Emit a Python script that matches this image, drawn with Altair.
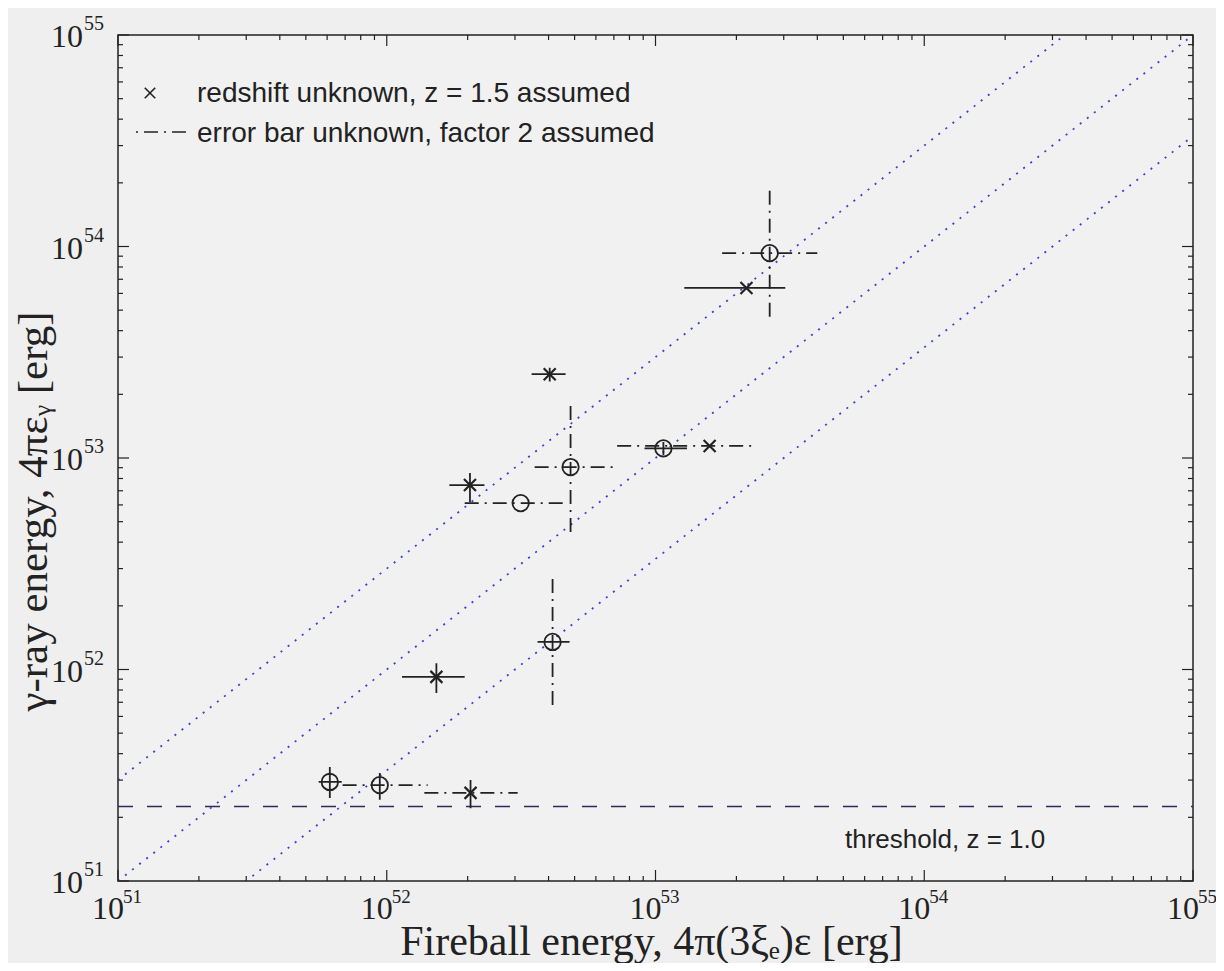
import altair as alt
import pandas as pd

# ---------------- data ----------------
X_DOMAIN = [1e51, 1e55]
Y_DOMAIN = [1e51, 1e55]
MAJOR_EXP = [51, 52, 53, 54, 55]
MINOR_MULT = [2, 3, 4, 5, 6, 7, 8, 9]
TICK_BASE = ["10", "10", "10", "10", "10"]
TICK_EXP = ["51", "52", "53", "54", "55"]

# GRB points: fireball energy (x) vs gamma-ray energy (y)
PT_X = [2.66e53, 2.18e53, 4.04e52, 4.83e52, 1.07e53, 1.59e53, 2.04e52,
        3.15e52, 4.14e52, 1.53e52, 6.14e51, 9.42e51, 2.05e52]
PT_Y = [9.3e53, 6.37e53, 2.49e53, 9.06e52, 1.11e53, 1.14e53, 7.45e52,
        6.12e52, 1.35e52, 9.23e51, 2.94e51, 2.84e51, 2.61e51]
PT_KIND = ["known", "unknown", "unknown", "known", "known", "unknown", "unknown",
           "known", "known", "unknown", "known", "known", "unknown"]
XLO = [1.77e53, 1.28e53, 3.46e52, 3.55e52, 9.1e52, 7.2e52, 1.71e52,
       1.95e52, 3.64e52, 1.14e52, 5.58e51, 6.85e51, 1.38e52]
XHI = [4.0e53, 3.04e53, 4.63e52, 7.23e52, 1.31e53, 2.39e53, 2.31e52,
       4.71e52, 4.79e52, 1.95e52, 6.8e51, 1.42e52, 3.07e52]
XSTYLE = ["dashdot", "solid", "solid", "dashdot", "solid", "dashdot", "solid",
          "dashdot", "solid", "solid", "solid", "dashdot", "dashdot"]
YLO = [4.65e53, None, 2.3e53, 4.47e52, 1.03e53, None, 6.2e52,
       None, 6.8e51, 7.75e51, 2.47e51, 2.42e51, 2.21e51]
YHI = [1.85e54, None, 2.67e53, 1.84e53, 1.19e53, None, 8.5e52,
       None, 2.71e52, 1.07e52, 3.46e51, 3.24e51, 3.0e51]
YSTYLE = ["dashdot", None, "solid", "dashdot", "solid", None, "solid",
          None, "dashdot", "solid", "solid", "solid", "solid"]

RATIOS = [3.0, 1.0, 1.0 / 3.0]
THRESHOLD = 2.25e51

X_TITLE = "Fireball energy, 4π(3ξₑ)ε [erg]"
Y_TITLE = "γ-ray energy, 4πεᵧ [erg]"
LEGEND_TEXT = ["redshift unknown, z = 1.5 assumed", "error bar unknown, factor 2 assumed"]
THRESH_TEXT = "threshold, z = 1.0"

# ---------------- styling ----------------
W, H = 1075, 846
INK = "#222222"
SERIF = "Liberation Serif, DejaVu Serif, serif"
SANS = "Liberation Sans, Arial, sans-serif"
BLUE = "#3c3ce6"
XPATH = "M-1,-1L1,1M-1,1L1,-1"

major_vals = [10.0 ** e for e in MAJOR_EXP]
minor_vals = [m * 10.0 ** e for e in MAJOR_EXP[:-1] for m in MINOR_MULT]

XS = alt.Scale(type="log", domain=X_DOMAIN)
YS = alt.Scale(type="log", domain=Y_DOMAIN)

XAX = alt.Axis(values=major_vals, labels=False, ticks=False, tickSize=0,
               domain=False, grid=False,
               title=X_TITLE, titleFont=SERIF, titleFontSize=42,
               titleFontWeight="normal", titleColor=INK,
               titleX=533, titleY=73, titleBaseline="alphabetic")
YAX = alt.Axis(values=major_vals, labels=False, ticks=False, tickSize=0,
               domain=False, grid=False,
               title=Y_TITLE, titleFont=SERIF, titleFontSize=43,
               titleFontWeight="normal", titleColor=INK,
               titleX=-72, titleY=476, titleAngle=270,
               titleBaseline="alphabetic", titleAlign="center")


def xq(f):
    return alt.X(f, type="quantitative", scale=XS, axis=XAX)


def yq(f):
    return alt.Y(f, type="quantitative", scale=YS, axis=YAX)


DASH = alt.StrokeDash("style:N",
                      scale=alt.Scale(domain=["solid", "dashdot"],
                                      range=[[1, 0], [14, 6, 2, 6]]),
                      legend=None)

# ---------------- tables ----------------
pts = pd.DataFrame({"x": PT_X, "y": PT_Y, "kind": PT_KIND})
hbars = pd.DataFrame({"lo": XLO, "hi": XHI, "y": PT_Y, "style": XSTYLE})
vrows = [dict(x=x, lo=lo, hi=hi, style=s)
         for x, lo, hi, s in zip(PT_X, YLO, YHI, YSTYLE) if s is not None]
vbars = pd.DataFrame(vrows)
lines = pd.DataFrame([dict(r=str(i), x=x, y=r * x)
                      for i, r in enumerate(RATIOS) for x in X_DOMAIN])
thr = pd.DataFrame({"y": [THRESHOLD]})
one = pd.DataFrame({"a": [0]})
tick_lab = pd.DataFrame({"v": major_vals, "base": TICK_BASE, "exp": TICK_EXP})

layers = []

layers.append(alt.Chart(lines).mark_line(clip=True, color=BLUE, strokeWidth=1.8,
                                         strokeDash=[2, 7]).encode(
    x=xq("x"), y=yq("y"), detail="r:N"))

layers.append(alt.Chart(thr).mark_rule(color="#2c2c5c", strokeWidth=1.6,
                                       strokeDash=[15, 14]).encode(
    y=yq("y"), x=alt.value(0), x2=alt.value(W)))

layers.append(alt.Chart(hbars).mark_rule(color=INK, strokeWidth=1.8).encode(
    x=xq("lo"), x2="hi", y=yq("y"), strokeDash=DASH))
layers.append(alt.Chart(vbars).mark_rule(color=INK, strokeWidth=1.8).encode(
    y=yq("lo"), y2="hi", x=xq("x"), strokeDash=DASH))

layers.append(alt.Chart(pts).transform_filter("datum.kind == 'known'").mark_point(
    shape="circle", size=270, filled=False, color=INK, strokeWidth=1.8, opacity=1).encode(
    x=xq("x"), y=yq("y")))
layers.append(alt.Chart(pts).transform_filter("datum.kind == 'unknown'").mark_point(
    shape=XPATH, size=144, filled=False, color=INK, strokeWidth=2.2, opacity=1).encode(
    x=xq("x"), y=yq("y")))


def ticks(values, length, side):
    base = alt.Chart(pd.DataFrame({"v": values})).mark_rule(color=INK, strokeWidth=1.2)
    if side == "bottom":
        return base.encode(x=xq("v"), y=alt.value(H), y2=alt.value(H - length))
    if side == "top":
        return base.encode(x=xq("v"), y=alt.value(0), y2=alt.value(length))
    if side == "left":
        return base.encode(y=yq("v"), x=alt.value(0), x2=alt.value(length))
    return base.encode(y=yq("v"), x=alt.value(W), x2=alt.value(W - length))


for side in ["bottom", "top", "left", "right"]:
    layers.append(ticks(major_vals, 11, side))
    layers.append(ticks(minor_vals, 5, side))

# tick labels: "10" with a raised exponent
lab = alt.Chart(tick_lab)
layers.append(lab.mark_text(align="right", baseline="alphabetic", font=SERIF,
                            fontSize=32, color=INK, dx=6).encode(
    x=xq("v"), y=alt.value(H + 38), text="base:N"))
layers.append(lab.mark_text(align="left", baseline="alphabetic", font=SERIF,
                            fontSize=19, color=INK, dx=5).encode(
    x=xq("v"), y=alt.value(H + 22), text="exp:N"))
layers.append(lab.mark_text(align="right", baseline="alphabetic", font=SERIF,
                            fontSize=32, color=INK, dy=12).encode(
    y=yq("v"), x=alt.value(-35), text="base:N"))
layers.append(lab.mark_text(align="left", baseline="alphabetic", font=SERIF,
                            fontSize=20, color=INK, dy=-5).encode(
    y=yq("v"), x=alt.value(-34), text="exp:N"))

# legend (no frame in the reference)
layers.append(alt.Chart(one).mark_point(shape=XPATH, size=110, filled=False, color=INK,
                                        strokeWidth=1.6, opacity=1).encode(
    x=alt.value(32), y=alt.value(58)))
layers.append(alt.Chart(one).mark_rule(color=INK, strokeWidth=1.6,
                                       strokeDash=[2, 6, 14, 6]).encode(
    x=alt.value(18), x2=alt.value(74), y=alt.value(97)))
layers.append(alt.Chart(one).mark_text(align="left", baseline="alphabetic", font=SANS,
                                       fontSize=28, color=INK, text=LEGEND_TEXT[0]).encode(
    x=alt.value(79), y=alt.value(67)))
layers.append(alt.Chart(one).mark_text(align="left", baseline="alphabetic", font=SANS,
                                       fontSize=28, color=INK, text=LEGEND_TEXT[1]).encode(
    x=alt.value(79), y=alt.value(107)))
layers.append(alt.Chart(one).mark_text(align="left", baseline="alphabetic", font=SANS,
                                       fontSize=26, color=INK, text=THRESH_TEXT).encode(
    x=alt.value(727), y=alt.value(813)))

chart = alt.layer(*layers).properties(
    width=W, height=H,
    padding={"left": 110, "top": 27, "right": 23, "bottom": 82},
    autosize=alt.AutoSizeParams(type="none"),
    background="#efefef",
).configure_view(stroke=INK, strokeWidth=1.5, fill="#f1f1f1")

chart.save("out.html", embed_options={"renderer": "svg", "actions": False})
